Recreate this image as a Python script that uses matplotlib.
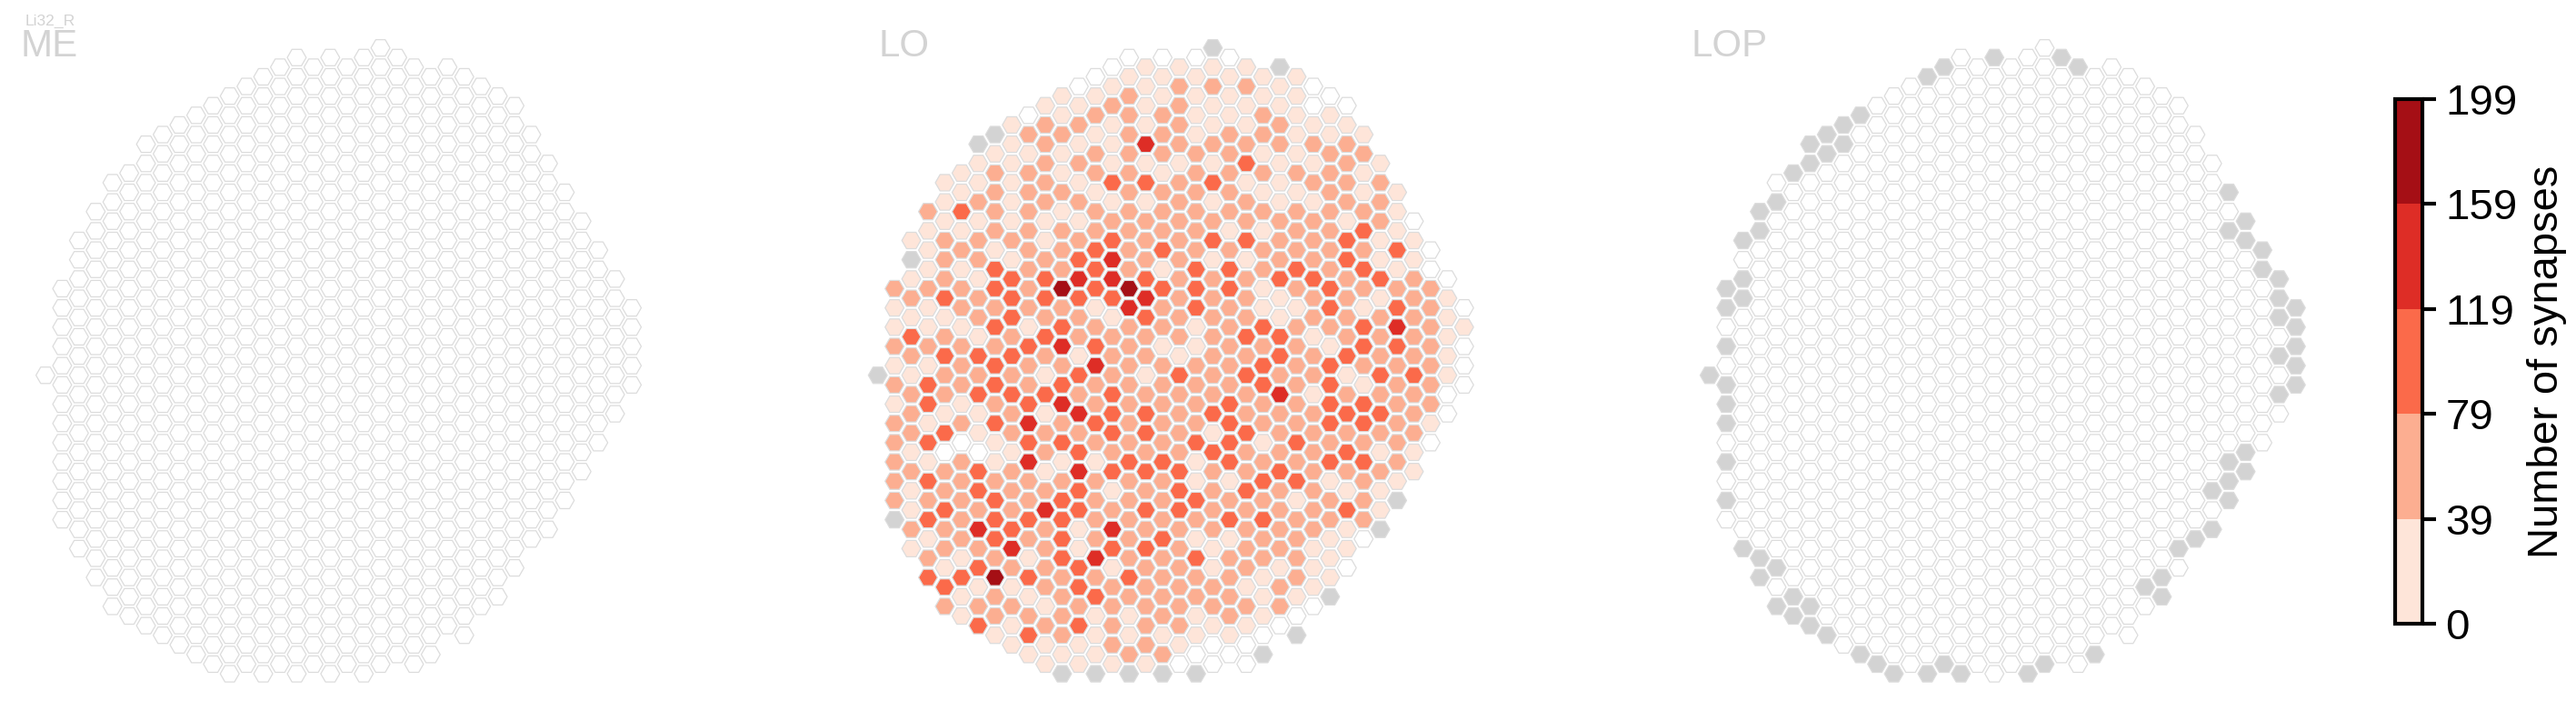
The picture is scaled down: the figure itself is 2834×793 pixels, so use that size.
import numpy as np
import matplotlib
matplotlib.use("Agg")
import matplotlib.pyplot as plt
from matplotlib.colors import ListedColormap, BoundaryNorm
from matplotlib.colorbar import ColorbarBase

plt.rcParams["font.family"] = ["Liberation Sans", "DejaVu Sans"]

W, H = 2834, 793
DPI = 300

# hex grid shared by all three neuropils, one entry per half-row (top to bottom)
first_col = [20, 15, 14, 13, 12, 11, 10, 9, 8, 7, 6, 7, 6, 5, 4, 5, 4, 3, 4, 3, 2, 3, 2, 3, 2, 1, 2, 1, 2, 1, 2, 1, 2, 1,
             0, 1, 2, 1, 2, 1, 2, 1, 2, 1, 2, 1, 2, 1, 2, 1, 2, 3, 2, 3, 4, 3, 4, 5, 4, 5, 6, 7, 8, 9, 10, 11]
last_col = [20, 21, 24, 25, 26, 27, 28, 27, 28, 29, 28, 29, 30, 29, 30, 31, 30, 31, 32, 31, 32, 33, 32, 33, 34, 33, 34,
            35, 34, 35, 34, 35, 34, 35, 34, 35, 34, 33, 34, 33, 32, 33, 32, 31, 32, 31, 30, 31, 30, 29, 30, 29, 28, 27,
            28, 27, 26, 27, 26, 25, 24, 25, 22, 23, 22, 19]

# LO: one char per hex. 0 = no synapses, 1-5 = colour bin, x = column not innervated
lo_rows = [
    "x", "0000", "01111x", "0111111", "01122210", "112111110", "1121211100", "0122211211",
    "12211211211", "x22122122111", "x12114222222", "111222221122", "1122111131121",
    "1221221222221", "11121332311222", "12221222211211", "12122112121122",
    "232212222222221", "111112222222120", "112222222112231", "1222123223322311",
    "1212232322222230", "x221234221122311", "1132232133232310", "12133443222332320",
    "22232535333123222", "23233334222122121", "112222142321131320", "11232213222122221",
    "111313222123223421", "32123222223312221", "222234321122213320", "23332122122323221",
    "112322422223232220", "x12221321323221331", "232323222223231220", "22333232222412220",
    "13123422223223322", "21121433232223320", "21234232223223321", "2312223321322222",
    "23013322233132220", "1001232223222311", "2121411331322332", "2232143332232221",
    "2322222221133121", "123223123232211", "222323222322122x", "132243233222231",
    "x32333222233222", "22432142222221x", "12323223112210", "12242133212211",
    "2121342232221", "1322312212110", "3353223222121", "311232222121", "12123222211x",
    "222122222220", "12221121210", "3123222110", "132111110x", "11122100", "1112200x",
    "1111000", "xxxxx",
]

# LOP: every hex has 0 synapses, these (row: columns) are the grey ones
lop_gray = {
    1: [17, 21], 2: [14, 22], 3: [13], 7: [9], 8: [8], 9: [7], 10: [6, 8], 11: [7], 12: [6], 13: [5], 15: [31],
    16: [4], 17: [3], 18: [32], 19: [3, 31], 20: [2, 32], 21: [33], 23: [33], 24: [2, 34], 25: [1], 26: [2, 34],
    27: [1, 35], 28: [34], 29: [35], 31: [1, 35], 32: [34], 33: [35], 34: [0], 35: [1, 35], 36: [34], 37: [1],
    39: [1], 42: [32], 43: [1, 31], 44: [32], 45: [31], 46: [30], 47: [1, 31], 50: [30], 51: [29], 52: [2, 28],
    53: [3], 54: [4], 55: [3, 27], 56: [26], 57: [5, 27], 58: [4, 6], 59: [5], 60: [6], 61: [7], 63: [9, 23],
    64: [10, 14, 20], 65: [11, 13, 15, 19],
}

bin_colors = ["#fee5d9", "#fcae91", "#fb6a4a", "#de2d26", "#a50f15"]
cbar_bounds = [0, 39, 79, 119, 159, 199]
cbar_label = "Number of synapses"
panel_names = ["ME", "LO", "LOP"]
panel_k0 = [50.0, 965.7, 1880.8]   # pixel x of column 0
panel_text_x = [23, 966, 1861]
GRAY = "#d3d3d3"

COL_PX = 18.43
ROW_PX = 10.59
TOP_PX = 52.7


def px_axes(fig, left, top, right, bottom):
    return fig.add_axes([left / W, 1 - bottom / H, (right - left) / W, (bottom - top) / H])


def row_cells(panel):
    cols, rows, faces = [], [], []
    for r, (a, b) in enumerate(zip(first_col, last_col)):
        for i, c in enumerate(range(a, b + 1, 2)):
            cols.append(c)
            rows.append(r)
            if panel == "LO":
                ch = lo_rows[r][i]
                faces.append("white" if ch == "0" else GRAY if ch == "x" else bin_colors[int(ch) - 1])
            elif panel == "LOP":
                faces.append(GRAY if c in lop_gray.get(r, []) else "white")
            else:
                faces.append("white")
    return cols, rows, faces


fig = plt.figure(figsize=(W / DPI, H / DPI), dpi=DPI)

for name, k0, tx in zip(panel_names, panel_k0, panel_text_x):
    # axes spans 800 px wide and the whole height, limits keep the grid to pixel scale
    left = k0 - 40
    ax = px_axes(fig, left, 0, left + 800, H)
    ax.set_xlim(-40 / COL_PX, 760 / COL_PX)
    ax.set_ylim((H - TOP_PX) / ROW_PX, -TOP_PX / ROW_PX)
    ax.axis("off")
    cols, rows, faces = row_cells(name)
    ax.scatter(cols, rows, marker="H", s=25, c=faces, edgecolors="#dcdcdc", linewidths=0.3, clip_on=False)
    fig.text(tx / W, 1 - 62 / H, name, color=GRAY, fontsize=10.1, ha="left", va="baseline")

fig.text(28 / W, 1 - 28 / H, "Li32_R", color=GRAY, fontsize=4.2, ha="left", va="baseline")

cax = px_axes(fig, 2635, 109, 2665, 686)
cb = ColorbarBase(cax, cmap=ListedColormap(bin_colors), norm=BoundaryNorm(cbar_bounds, 5),
                  boundaries=cbar_bounds, ticks=cbar_bounds, spacing="uniform")
cb.outline.set_linewidth(1.0)
cb.ax.tick_params(length=3.6, width=1.0, labelsize=11.4, pad=2.5)
cb.set_label(cbar_label, fontsize=11.3, labelpad=2.5)

fig.savefig("out.png", dpi=DPI)
